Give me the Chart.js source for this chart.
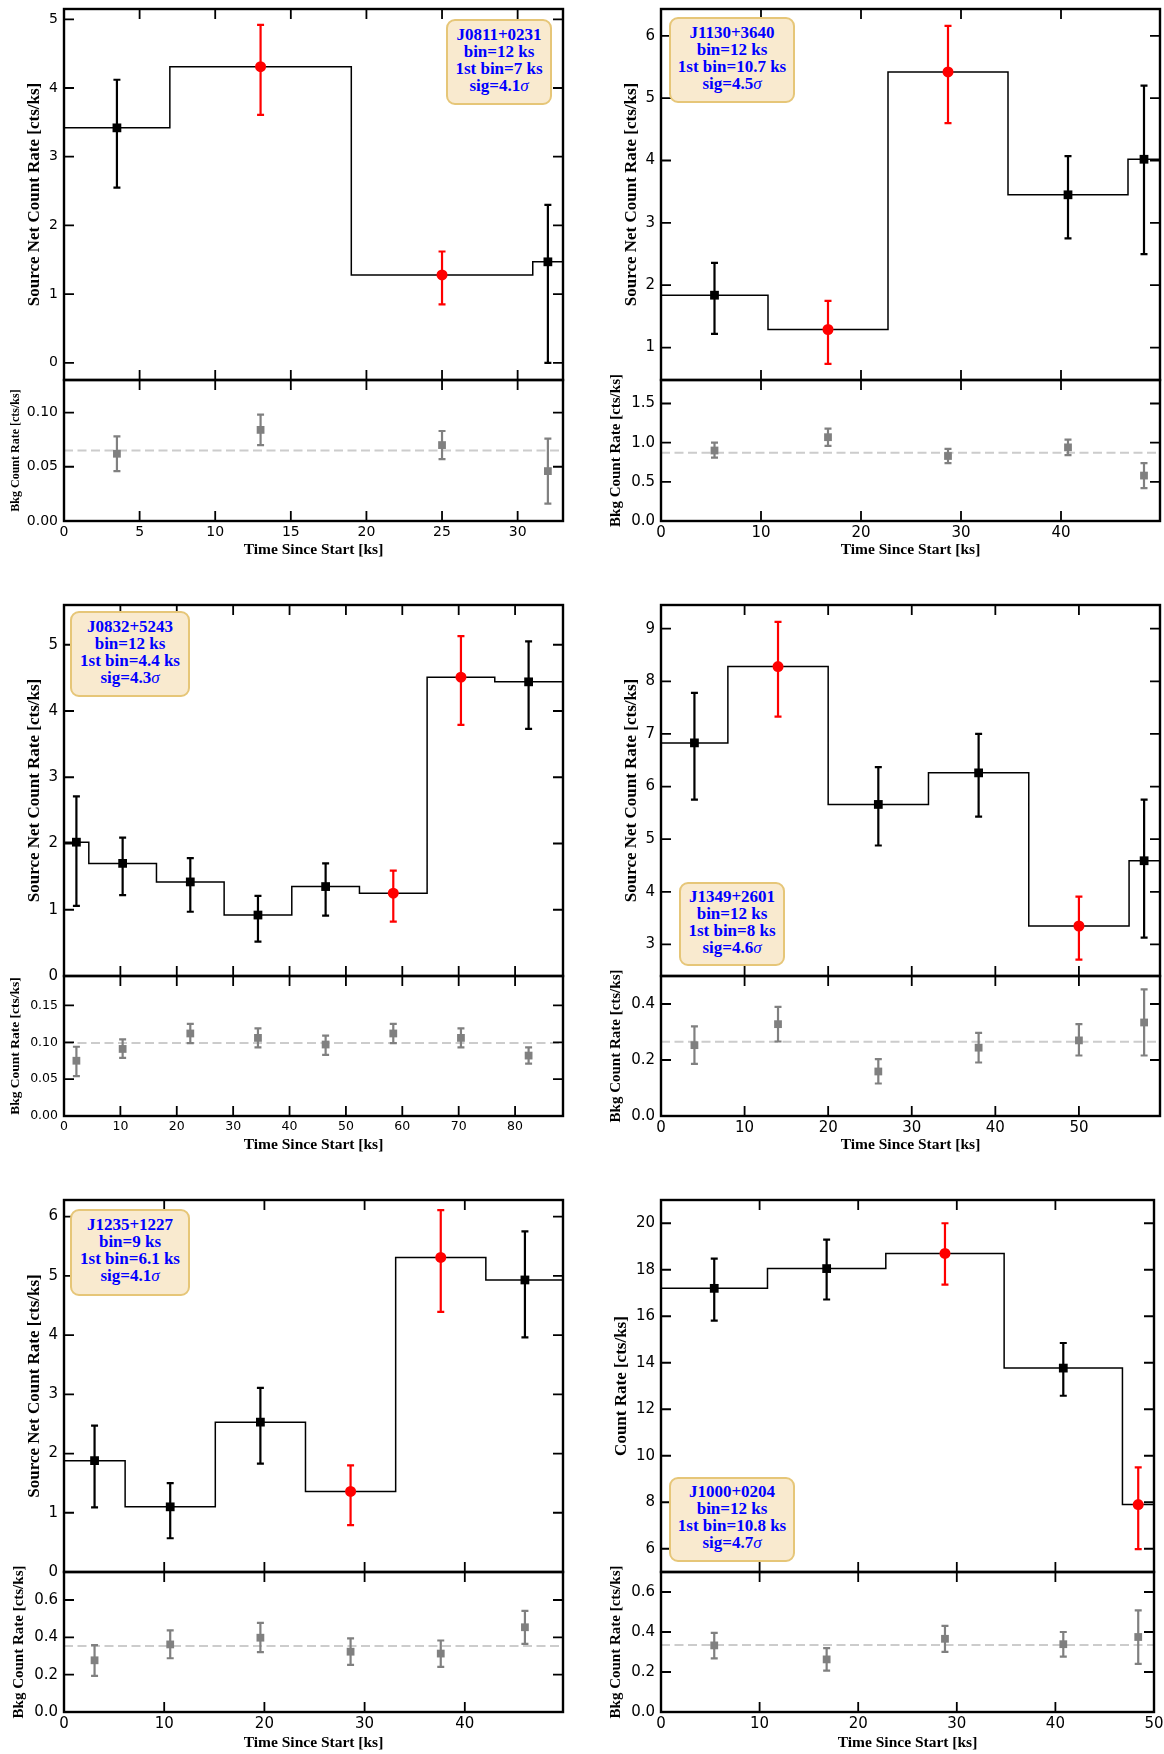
<!DOCTYPE html>
<html>
<head>
<meta charset="utf-8">
<title>X-ray light curves</title>
<script src="https://cdn.jsdelivr.net/npm/chart.js@4.4.1/dist/chart.umd.min.js"></script>
<style>
  html, body { margin: 0; padding: 0; background: #fff; }
  #fig { position: relative; width: 1164px; height: 1754px; overflow: hidden; }
  #fig canvas { position: absolute; }
  .note { position: absolute; z-index: 5; box-sizing: border-box; background: #f9eacf; border: 2.5px solid #e6c678; border-radius: 9px;
          color: #0000ff; font: bold 17px "Liberation Serif", serif; line-height: 17px; text-align: center; padding-bottom: 5px;
          display: flex; flex-direction: column; justify-content: center; }
  .note i { font-weight: normal; }
</style>
</head>
<body>
<div id="fig"></div>
<script>
// J0811+0231
const j0811Edges = [0, 7, 19, 31, 33];
const j0811Time = [3.5, 13, 25, 32];
const j0811Rate = [3.42, 4.31, 1.28, 1.47];
const j0811Lo = [2.55, 3.61, 0.85, 0.0];
const j0811Hi = [4.12, 4.92, 1.62, 2.30];
const j0811Flag = [0, 1, 1, 0];
const j0811Bkg = [0.062, 0.084, 0.070, 0.046];
const j0811BkgLo = [0.046, 0.070, 0.057, 0.016];
const j0811BkgHi = [0.078, 0.098, 0.083, 0.076];
const j0811BkgMean = 0.065;
const j0811XLim = [0, 33], j0811YLim = [-0.25, 5.15], j0811BLim = [0, 0.13];
const j0811XTicks = [0, 5, 10, 15, 20, 25, 30];
const j0811YTicks = [0, 1, 2, 3, 4, 5];
const j0811BTicks = [0, 0.05, 0.10];
const j0811Note = ['J0811+0231', 'bin=12 ks', '1st bin=7 ks', 'sig=4.1'];

// J1130+3640
const j1130Edges = [0, 10.7, 22.7, 34.7, 46.7, 49.9];
const j1130Time = [5.35, 16.7, 28.7, 40.7, 48.3];
const j1130Rate = [1.84, 1.29, 5.42, 3.45, 4.02];
const j1130Lo = [1.22, 0.74, 4.60, 2.75, 2.50];
const j1130Hi = [2.36, 1.75, 6.16, 4.07, 5.20];
const j1130Flag = [0, 1, 1, 0, 0];
const j1130Bkg = [0.90, 1.07, 0.83, 0.94, 0.58];
const j1130BkgLo = [0.81, 0.96, 0.74, 0.84, 0.42];
const j1130BkgHi = [1.00, 1.18, 0.92, 1.04, 0.74];
const j1130BkgMean = 0.87;
const j1130XLim = [0, 49.9], j1130YLim = [0.48, 6.43], j1130BLim = [0, 1.8];
const j1130XTicks = [0, 10, 20, 30, 40];
const j1130YTicks = [1, 2, 3, 4, 5, 6];
const j1130BTicks = [0, 0.5, 1.0, 1.5];
const j1130Note = ['J1130+3640', 'bin=12 ks', '1st bin=10.7 ks', 'sig=4.5'];

// J0832+5243
const j0832Edges = [0, 4.4, 16.4, 28.4, 40.4, 52.4, 64.4, 76.4, 88.4];
const j0832Time = [2.2, 10.4, 22.4, 34.4, 46.4, 58.4, 70.4, 82.4];
const j0832Rate = [2.02, 1.70, 1.42, 0.92, 1.35, 1.25, 4.51, 4.44];
const j0832Lo = [1.06, 1.22, 0.97, 0.52, 0.91, 0.82, 3.79, 3.73];
const j0832Hi = [2.71, 2.09, 1.78, 1.21, 1.70, 1.59, 5.13, 5.05];
const j0832Flag = [0, 0, 0, 0, 0, 1, 1, 0];
const j0832Bkg = [0.075, 0.091, 0.112, 0.106, 0.097, 0.112, 0.106, 0.082];
const j0832BkgLo = [0.054, 0.079, 0.099, 0.093, 0.083, 0.099, 0.093, 0.071];
const j0832BkgHi = [0.094, 0.104, 0.125, 0.119, 0.109, 0.125, 0.119, 0.093];
const j0832BkgMean = 0.099;
const j0832XLim = [0, 88.5], j0832YLim = [0, 5.6], j0832BLim = [0, 0.19];
const j0832XTicks = [0, 10, 20, 30, 40, 50, 60, 70, 80];
const j0832YTicks = [0, 1, 2, 3, 4, 5];
const j0832BTicks = [0, 0.05, 0.10, 0.15];
const j0832Note = ['J0832+5243', 'bin=12 ks', '1st bin=4.4 ks', 'sig=4.3'];

// J1349+2601
const j1349Edges = [0, 8, 20, 32, 44, 56, 59.6];
const j1349Time = [4, 14, 26, 38, 50, 57.8];
const j1349Rate = [6.83, 8.28, 5.66, 6.26, 3.35, 4.59];
const j1349Lo = [5.75, 7.33, 4.88, 5.43, 2.71, 3.13];
const j1349Hi = [7.78, 9.13, 6.37, 7.00, 3.91, 5.75];
const j1349Flag = [0, 1, 0, 0, 1, 0];
const j1349Bkg = [0.253, 0.328, 0.159, 0.244, 0.270, 0.334];
const j1349BkgLo = [0.186, 0.266, 0.116, 0.191, 0.216, 0.216];
const j1349BkgHi = [0.320, 0.390, 0.203, 0.297, 0.328, 0.452];
const j1349BkgMean = 0.265;
const j1349XLim = [0, 59.7], j1349YLim = [2.4, 9.45], j1349BLim = [0, 0.5];
const j1349XTicks = [0, 10, 20, 30, 40, 50];
const j1349YTicks = [3, 4, 5, 6, 7, 8, 9];
const j1349BTicks = [0, 0.2, 0.4];
const j1349Note = ['J1349+2601', 'bin=12 ks', '1st bin=8 ks', 'sig=4.6'];

// J1235+1227
const j1235Edges = [0, 6.1, 15.1, 24.1, 33.1, 42.1, 49.8];
const j1235Time = [3.05, 10.6, 19.6, 28.6, 37.6, 46.0];
const j1235Rate = [1.88, 1.10, 2.53, 1.36, 5.31, 4.93];
const j1235Lo = [1.09, 0.57, 1.83, 0.79, 4.39, 3.96];
const j1235Hi = [2.47, 1.50, 3.11, 1.80, 6.11, 5.75];
const j1235Flag = [0, 0, 0, 1, 1, 0];
const j1235Bkg = [0.277, 0.362, 0.398, 0.323, 0.313, 0.454];
const j1235BkgLo = [0.194, 0.288, 0.321, 0.252, 0.242, 0.365];
const j1235BkgHi = [0.358, 0.437, 0.477, 0.394, 0.383, 0.542];
const j1235BkgMean = 0.354;
const j1235XLim = [0, 49.8], j1235YLim = [0, 6.28], j1235BLim = [0, 0.75];
const j1235XTicks = [0, 10, 20, 30, 40];
const j1235YTicks = [0, 1, 2, 3, 4, 5, 6];
const j1235BTicks = [0, 0.2, 0.4, 0.6];
const j1235Note = ['J1235+1227', 'bin=9 ks', '1st bin=6.1 ks', 'sig=4.1'];

// J1000+0204
const j1000Edges = [0, 10.8, 22.8, 34.8, 46.8, 50];
const j1000Time = [5.4, 16.8, 28.8, 40.8, 48.4];
const j1000Rate = [17.2, 18.05, 18.7, 13.77, 7.9];
const j1000Lo = [15.81, 16.72, 17.36, 12.58, 5.98];
const j1000Hi = [18.48, 19.30, 20.0, 14.85, 9.50];
const j1000Flag = [0, 0, 1, 0, 1];
const j1000Bkg = [0.333, 0.263, 0.366, 0.339, 0.375];
const j1000BkgLo = [0.268, 0.207, 0.301, 0.277, 0.241];
const j1000BkgHi = [0.396, 0.319, 0.431, 0.400, 0.508];
const j1000BkgMean = 0.335;
const j1000XLim = [0, 50], j1000YLim = [5, 21], j1000BLim = [0, 0.7];
const j1000XTicks = [0, 10, 20, 30, 40, 50];
const j1000YTicks = [6, 8, 10, 12, 14, 16, 18, 20];
const j1000BTicks = [0, 0.2, 0.4, 0.6];
const j1000Note = ['J1000+0204', 'bin=12 ks', '1st bin=10.8 ks', 'sig=4.7'];

// page layout (pixels)
const COLS = [{ x0: 0, left: 64 }, { x0: 582, left: 661 }];
const ROWS = [
  { top: 9, join: 380, bottom: 521, xTitle: 29 },
  { top: 605, join: 976, bottom: 1116, xTitle: 29 },
  { top: 1200, join: 1572, bottom: 1712, xTitle: 31 }
];
const PAD = 14;      // canvas margin around the axes box
const XAXIS_H = 46;  // room under the lower panel for tick labels + title
const SRC_LABEL = 'Source Net Count Rate [cts/ks]';

const panels = [
  { col: 0, row: 0, right: 563, edges: j0811Edges, t: j0811Time, rate: j0811Rate, lo: j0811Lo, hi: j0811Hi, flag: j0811Flag,
    bkg: j0811Bkg, bLo: j0811BkgLo, bHi: j0811BkgHi, bMean: j0811BkgMean,
    xLim: j0811XLim, yLim: j0811YLim, bLim: j0811BLim, xTicks: j0811XTicks, yTicks: j0811YTicks, bTicks: j0811BTicks, bDec: 2,
    note: j0811Note, box: [446, 19, 106, 86], ylabel: SRC_LABEL, tick: 14, bTick: 14, xTick: 14, yTitleX: 35, bTitleX: 16, bTitle: 12 },
  { col: 1, row: 0, right: 1160, edges: j1130Edges, t: j1130Time, rate: j1130Rate, lo: j1130Lo, hi: j1130Hi, flag: j1130Flag,
    bkg: j1130Bkg, bLo: j1130BkgLo, bHi: j1130BkgHi, bMean: j1130BkgMean,
    xLim: j1130XLim, yLim: j1130YLim, bLim: j1130BLim, xTicks: j1130XTicks, yTicks: j1130YTicks, bTicks: j1130BTicks, bDec: 1,
    note: j1130Note, box: [669, 17, 126, 86], ylabel: SRC_LABEL, tick: 15, bTick: 15, xTick: 15, yTitleX: 50, bTitleX: 34, bTitle: 15 },
  { col: 0, row: 1, right: 563, edges: j0832Edges, t: j0832Time, rate: j0832Rate, lo: j0832Lo, hi: j0832Hi, flag: j0832Flag,
    bkg: j0832Bkg, bLo: j0832BkgLo, bHi: j0832BkgHi, bMean: j0832BkgMean,
    xLim: j0832XLim, yLim: j0832YLim, bLim: j0832BLim, xTicks: j0832XTicks, yTicks: j0832YTicks, bTicks: j0832BTicks, bDec: 2,
    note: j0832Note, box: [70, 611, 120, 86], ylabel: SRC_LABEL, tick: 15, bTick: 12.5, xTick: 12.5, yTitleX: 35, bTitleX: 16, bTitle: 13.5 },
  { col: 1, row: 1, right: 1160, edges: j1349Edges, t: j1349Time, rate: j1349Rate, lo: j1349Lo, hi: j1349Hi, flag: j1349Flag,
    bkg: j1349Bkg, bLo: j1349BkgLo, bHi: j1349BkgHi, bMean: j1349BkgMean,
    xLim: j1349XLim, yLim: j1349YLim, bLim: j1349BLim, xTicks: j1349XTicks, yTicks: j1349YTicks, bTicks: j1349BTicks, bDec: 1,
    note: j1349Note, box: [679, 882, 106, 84], ylabel: SRC_LABEL, tick: 15, bTick: 15, xTick: 15, yTitleX: 50, bTitleX: 34, bTitle: 15 },
  { col: 0, row: 2, right: 563, edges: j1235Edges, t: j1235Time, rate: j1235Rate, lo: j1235Lo, hi: j1235Hi, flag: j1235Flag,
    bkg: j1235Bkg, bLo: j1235BkgLo, bHi: j1235BkgHi, bMean: j1235BkgMean,
    xLim: j1235XLim, yLim: j1235YLim, bLim: j1235BLim, xTicks: j1235XTicks, yTicks: j1235YTicks, bTicks: j1235BTicks, bDec: 1,
    note: j1235Note, box: [70, 1209, 120, 87], ylabel: SRC_LABEL, tick: 15, bTick: 15, xTick: 15, yTitleX: 35, bTitleX: 19, bTitle: 15 },
  { col: 1, row: 2, right: 1154, edges: j1000Edges, t: j1000Time, rate: j1000Rate, lo: j1000Lo, hi: j1000Hi, flag: j1000Flag,
    bkg: j1000Bkg, bLo: j1000BkgLo, bHi: j1000BkgHi, bMean: j1000BkgMean,
    xLim: j1000XLim, yLim: j1000YLim, bLim: j1000BLim, xTicks: j1000XTicks, yTicks: j1000YTicks, bTicks: j1000BTicks, bDec: 1,
    note: j1000Note, box: [669, 1477, 126, 85], ylabel: 'Count Rate [cts/ks]', tick: 15, bTick: 15, xTick: 15, yTitleX: 40, bTitleX: 34, bTitle: 15 },
];

Chart.defaults.color = '#000';

// vertical error bars with caps, drawn just before the markers of a dataset
const errorBars = {
  id: 'errorBars',
  beforeDatasetDraw(chart, args) {
    const ds = chart.data.datasets[args.index];
    if (!ds.errLo) return;
    const { ctx, scales: { x, y } } = chart;
    ctx.save();
    ctx.strokeStyle = ds.errColor;
    ctx.lineWidth = 2.2;
    ctx.beginPath();
    ds.data.forEach((p, i) => {
      const px = x.getPixelForValue(p.x);
      const y0 = y.getPixelForValue(ds.errLo[i]);
      const y1 = y.getPixelForValue(ds.errHi[i]);
      ctx.moveTo(px, y0); ctx.lineTo(px, y1);
      ctx.moveTo(px - 3.5, y0); ctx.lineTo(px + 3.5, y0);
      ctx.moveTo(px - 3.5, y1); ctx.lineTo(px + 3.5, y1);
    });
    ctx.stroke();
    ctx.restore();
  }
};

// matplotlib-like box: thick spines and inward ticks on all four sides
const frame = {
  id: 'frame',
  afterDraw(chart, args, opts) {
    const { ctx, chartArea: a, scales: { x, y } } = chart;
    ctx.save();
    ctx.strokeStyle = '#000';
    ctx.lineWidth = 1.8;
    ctx.beginPath();
    opts.xTicks.forEach(v => {
      const px = x.getPixelForValue(v);
      ctx.moveTo(px, a.top); ctx.lineTo(px, a.top + opts.len);
      ctx.moveTo(px, a.bottom); ctx.lineTo(px, a.bottom - opts.len);
    });
    opts.yTicks.forEach(v => {
      const py = y.getPixelForValue(v);
      ctx.moveTo(a.left, py); ctx.lineTo(a.left + opts.len, py);
      ctx.moveTo(a.right, py); ctx.lineTo(a.right - opts.len, py);
    });
    ctx.stroke();
    ctx.lineWidth = 2.4;
    ctx.strokeRect(a.left, a.top, a.right - a.left, a.bottom - a.top);
    ctx.restore();
  }
};

function addCanvas(x, y, w, h) {
  const c = document.createElement('canvas');
  c.width = w; c.height = h;
  c.style.left = x + 'px'; c.style.top = y + 'px';
  c.style.width = w + 'px'; c.style.height = h + 'px';
  document.getElementById('fig').appendChild(c);
  return c;
}

function stepLine(edges, rate) {
  const pts = rate.map((r, i) => ({ x: edges[i], y: r }));
  pts.push({ x: edges[edges.length - 1], y: rate[rate.length - 1] });
  return pts;
}

function split(p, want) {
  const idx = p.t.map((_, i) => i).filter(i => p.flag[i] === want);
  return { data: idx.map(i => ({ x: p.t[i], y: p.rate[i] })), lo: idx.map(i => p.lo[i]), hi: idx.map(i => p.hi[i]) };
}

function yAxis(lim, ticks, dec, size, label, titleSize, titleX, width) {
  return {
    type: 'linear', min: lim[0], max: lim[1],
    afterBuildTicks: s => { s.ticks = ticks.map(v => ({ value: v })); },
    afterFit: s => { s.width = width; s.paddingTop = 0; s.paddingBottom = 0; },
    grid: { display: false, drawTicks: false },
    border: { display: false },
    ticks: { padding: 6, autoSkip: false, font: { family: 'DejaVu Sans', size }, callback: v => v.toFixed(dec) },
    title: {
      display: true, text: label,
      font: { family: 'Liberation Serif', weight: 'bold', size: titleSize, lineHeight: 1 },
      padding: { top: titleX - titleSize / 2, bottom: 0 }
    }
  };
}

function base(padR, padB, frameX, frameY) {
  return {
    responsive: false, animation: false, devicePixelRatio: 1, events: [],
    layout: { autoPadding: false, padding: { left: 0, right: padR, top: PAD, bottom: padB } },
    plugins: { legend: { display: false }, tooltip: { enabled: false }, frame: { xTicks: frameX, yTicks: frameY, len: 10 } }
  };
}

panels.forEach(p => {
  const col = COLS[p.col], row = ROWS[p.row];
  const W = 582;
  const padR = W - (p.right - col.x0);
  const axisW = col.left - col.x0;
  const black = split(p, 0), red = split(p, 1);

  // upper panel: source light curve
  const c1 = addCanvas(col.x0, row.top - PAD, W, row.join - row.top + 2 * PAD);
  const o1 = base(padR, PAD, p.xTicks, p.yTicks);
  o1.scales = {
    x: { type: 'linear', min: p.xLim[0], max: p.xLim[1], display: false },
    y: yAxis(p.yLim, p.yTicks, 0, p.tick, p.ylabel, 17, p.yTitleX, axisW)
  };
  new Chart(c1, {
    type: 'scatter',
    data: { datasets: [
      { data: black.data, errLo: black.lo, errHi: black.hi, errColor: '#000000', pointStyle: 'rect', pointRadius: 6.2,
        backgroundColor: '#000000', borderWidth: 0, order: 0 },
      { data: red.data, errLo: red.lo, errHi: red.hi, errColor: '#ff0000', pointStyle: 'circle', pointRadius: 5.5,
        backgroundColor: '#ff0000', borderWidth: 0, order: 0 },
      { data: stepLine(p.edges, p.rate), showLine: true, stepped: 'before', borderColor: '#000000', borderWidth: 1.5,
        pointRadius: 0, order: 1 }
    ] },
    options: o1,
    plugins: [errorBars, frame]
  });

  // lower panel: background rate
  const c2 = addCanvas(col.x0, row.join - PAD, W, row.bottom - row.join + PAD + XAXIS_H);
  const o2 = base(padR, 0, p.xTicks, p.bTicks);
  o2.scales = {
    x: {
      type: 'linear', min: p.xLim[0], max: p.xLim[1],
      afterBuildTicks: s => { s.ticks = p.xTicks.map(v => ({ value: v })); },
      afterFit: s => { s.height = XAXIS_H; s.paddingLeft = 0; s.paddingRight = 0; },
      grid: { display: false, drawTicks: false },
      border: { display: false },
      ticks: { padding: 3, autoSkip: false, maxRotation: 0, font: { family: 'DejaVu Sans', size: p.xTick }, callback: v => String(v) },
      title: {
        display: true, text: 'Time Since Start [ks]',
        font: { family: 'Liberation Serif', weight: 'bold', size: 15.5, lineHeight: 1 },
        padding: { top: 0, bottom: XAXIS_H - row.xTitle - 7.75 }
      }
    },
    y: yAxis(p.bLim, p.bTicks, p.bDec, p.bTick, 'Bkg Count Rate [cts/ks]', p.bTitle, p.bTitleX, axisW)
  };
  new Chart(c2, {
    type: 'scatter',
    data: { datasets: [
      { data: p.t.map((t, i) => ({ x: t, y: p.bkg[i] })), errLo: p.bLo, errHi: p.bHi, errColor: '#808080',
        pointStyle: 'rect', pointRadius: 5.5, backgroundColor: '#808080', borderWidth: 0, order: 0 },
      { data: [{ x: p.xLim[0], y: p.bMean }, { x: p.xLim[1], y: p.bMean }], showLine: true, borderColor: '#cccccc',
        borderWidth: 2, borderDash: [9, 4.5], pointRadius: 0, order: 1 }
    ] },
    options: o2,
    plugins: [errorBars, frame]
  });

  // annotation box
  const d = document.createElement('div');
  d.className = 'note';
  const [bx, by, bw, bh] = p.box;
  Object.assign(d.style, { left: bx + 'px', top: by + 'px', width: bw + 'px', height: bh + 'px' });
  d.innerHTML = p.note.slice(0, 3).map(s => '<div>' + s + '</div>').join('') + '<div>' + p.note[3] + '<i>σ</i></div>';
  document.getElementById('fig').appendChild(d);
});
</script>
</body>
</html>
